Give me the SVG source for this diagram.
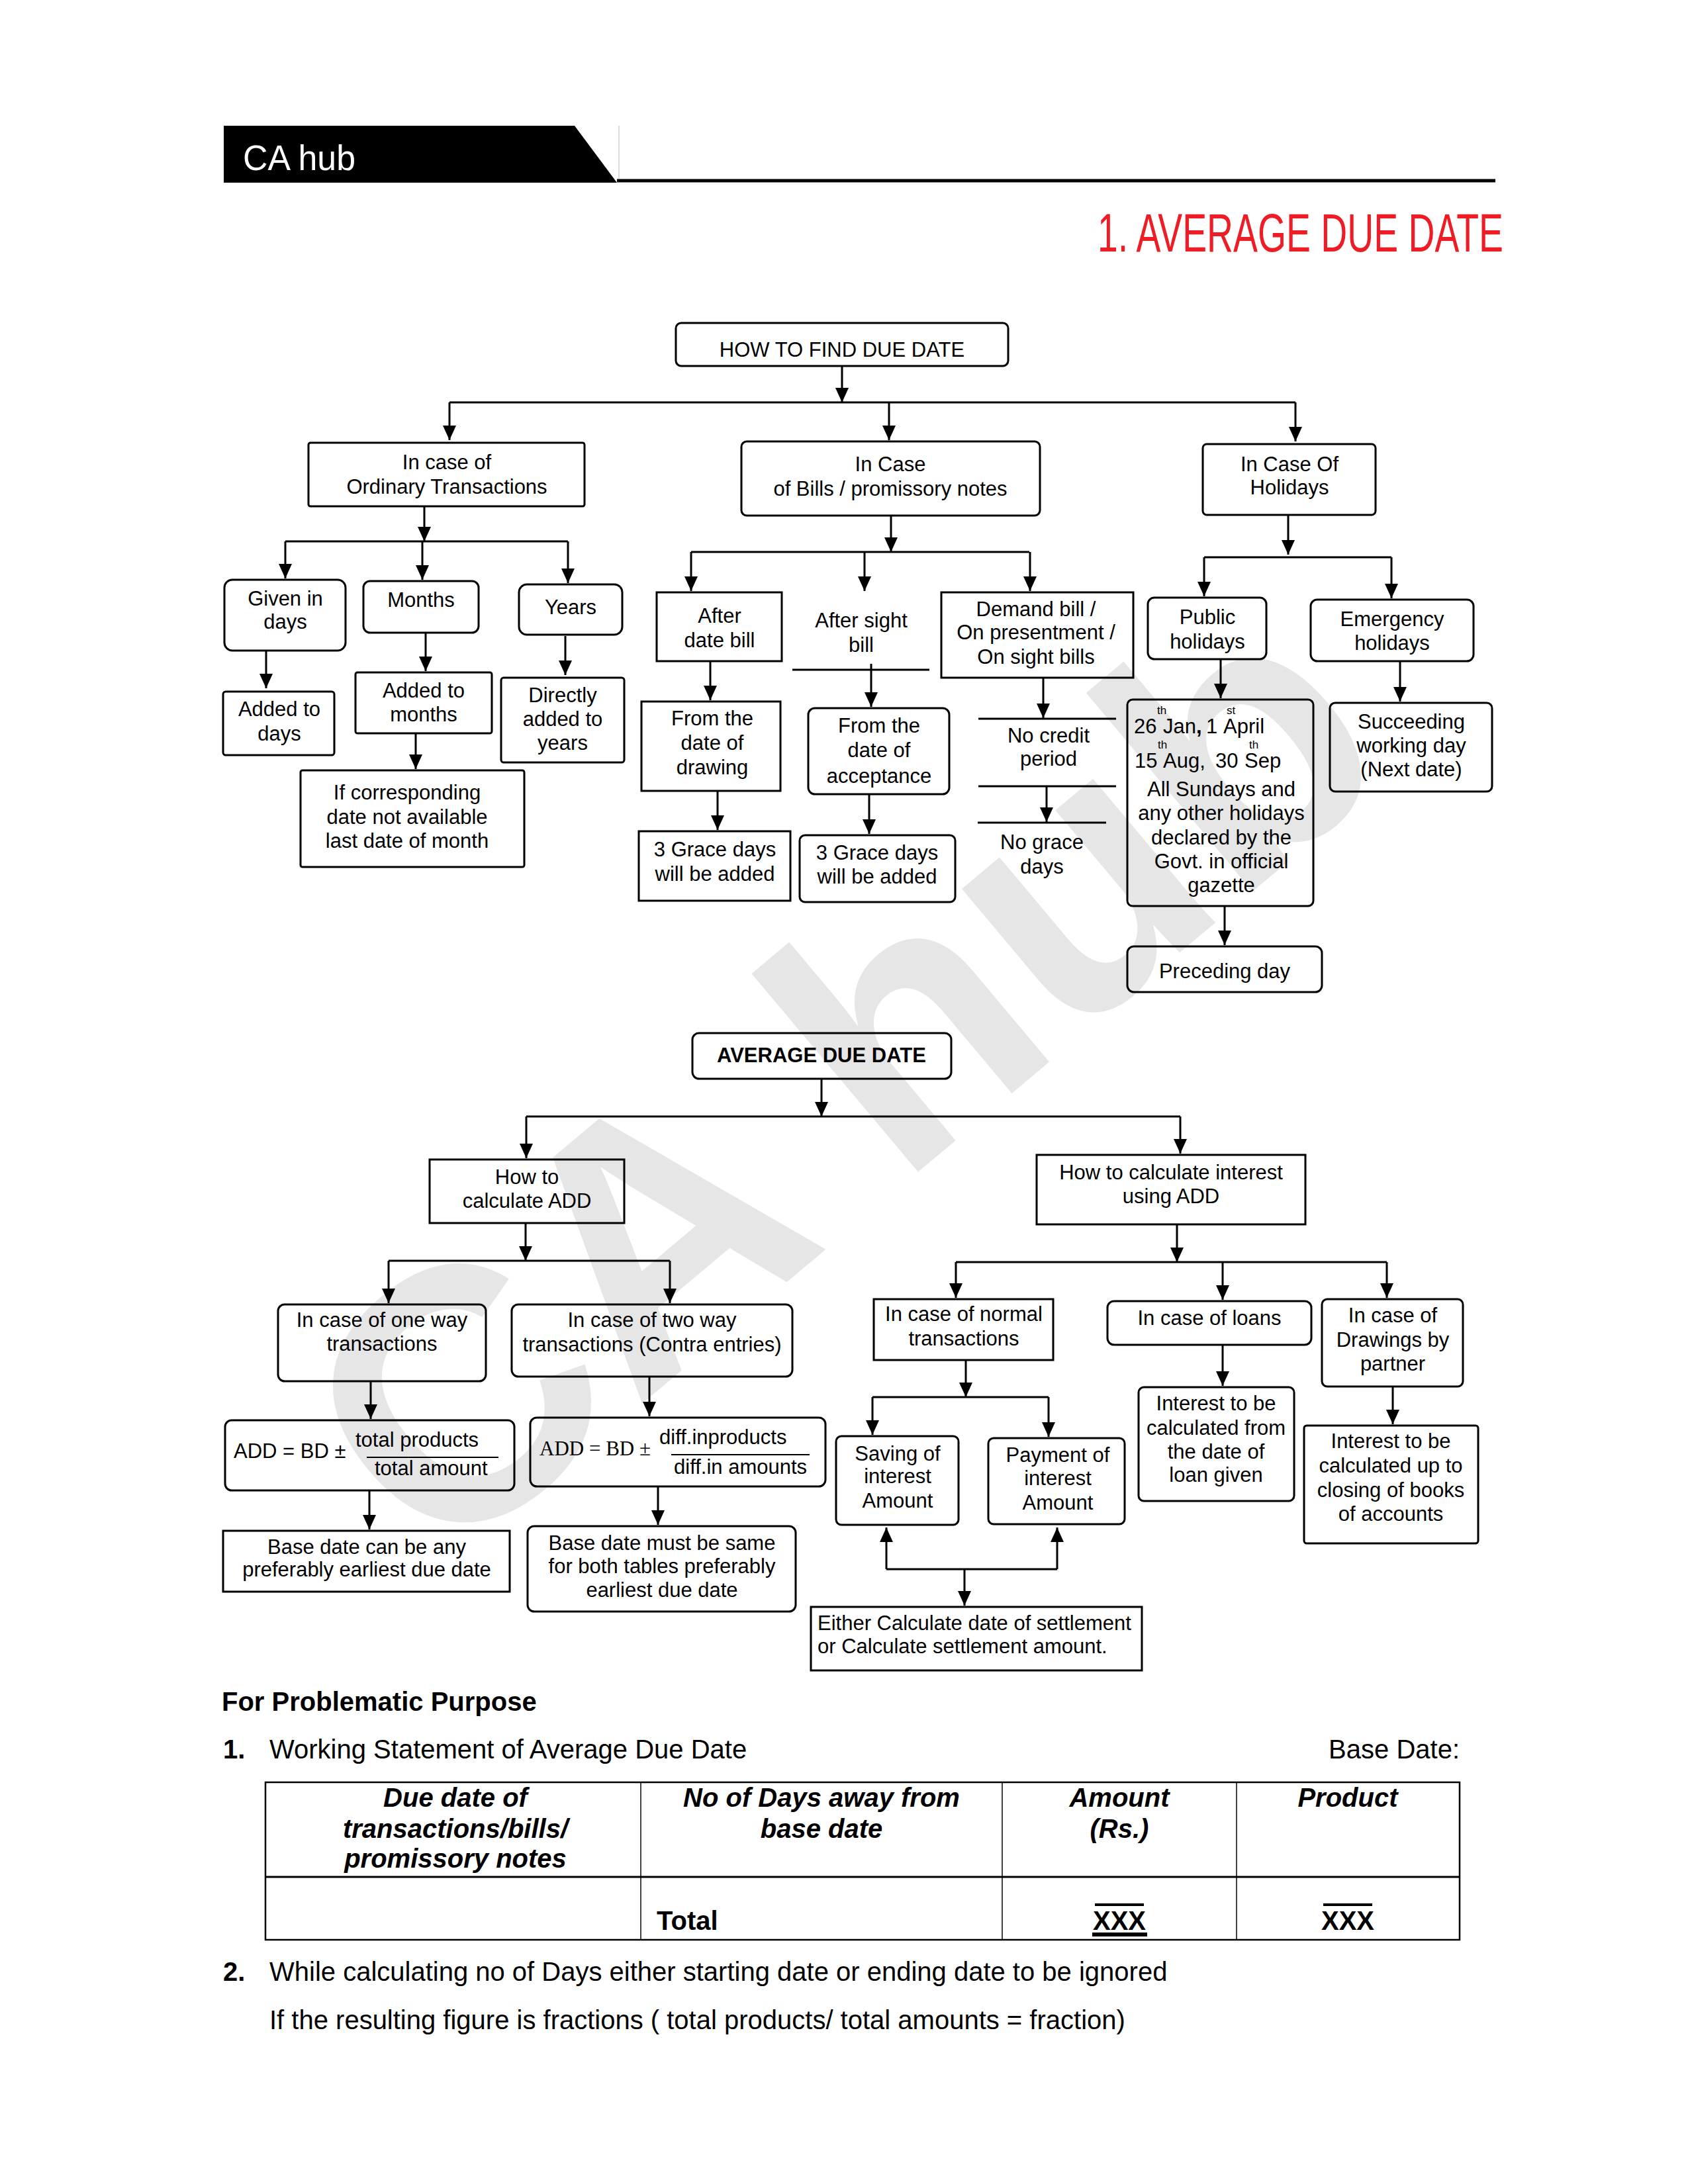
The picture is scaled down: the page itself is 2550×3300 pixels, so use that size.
<svg xmlns="http://www.w3.org/2000/svg" width="2550" height="3300" viewBox="0 0 2550 3300">
<defs>
<style>
.b{fill:none;stroke:#000;stroke-width:3}
.t{font-family:"Liberation Sans",Arial,Helvetica,sans-serif;font-size:31px;text-anchor:middle;fill:#000}
.l{font-family:"Liberation Sans",Arial,Helvetica,sans-serif;font-size:31px;fill:#000}
.sup{font-family:"Liberation Sans",Arial,Helvetica,sans-serif;font-size:17px;fill:#000}
.p{font-family:"Liberation Sans",Arial,Helvetica,sans-serif;font-size:40px;fill:#000}
.hd{font-family:"Liberation Sans",Arial,Helvetica,sans-serif;font-size:40px;font-weight:bold;font-style:italic;text-anchor:middle;fill:#000}
.c{stroke:#000;stroke-width:3;fill:none}
.a{marker-end:url(#ah)}
</style>
<marker id="ah" viewBox="0 0 22 20" refX="22" refY="10" markerWidth="22" markerHeight="20" markerUnits="userSpaceOnUse" orient="auto">
<path d="M0,0 L22,10 L0,20 z" fill="#000"/>
</marker>
</defs>
<rect width="2550" height="3300" fill="#fff"/>
<!-- watermark -->
<text x="661" y="2380" transform="rotate(-40 661 2380)" font-family="Liberation Sans, Arial, sans-serif" font-size="540" font-weight="bold" fill="#e6e6e6">CA hub</text>

<!-- header -->
<g id="header">
<polygon points="338,190 868,190 932,276 338,276" fill="#000"/>
<line x1="932" y1="273" x2="2259" y2="273" stroke="#000" stroke-width="5"/>
<line x1="935" y1="190" x2="935" y2="270" stroke="#d0d0d0" stroke-width="1.5"/>
<text x="367" y="257" font-family="Liberation Sans, Arial, sans-serif" font-size="54" fill="#fff" textLength="170" lengthAdjust="spacingAndGlyphs">CA hub</text>
<text transform="translate(1658,380) scale(0.675,1)" x="0" y="0" font-family="Liberation Sans, Arial, sans-serif" font-size="82" fill="#ee1c25">1. AVERAGE DUE DATE</text>
</g>

<!-- connectors -->
<g id="connectors">
<line class="c a" x1="1272" y1="553" x2="1272" y2="608"/>
<line class="c" x1="679" y1="608" x2="1957" y2="608" stroke-width="4"/>
<line class="c a" x1="679" y1="608" x2="679" y2="665"/>
<line class="c a" x1="1343" y1="608" x2="1343" y2="665"/>
<line class="c a" x1="1957" y1="608" x2="1957" y2="667"/>

<line class="c a" x1="641" y1="765" x2="641" y2="818"/>
<line class="c" x1="431" y1="818" x2="858" y2="818"/>
<line class="c a" x1="431" y1="818" x2="431" y2="874"/>
<line class="c a" x1="638" y1="818" x2="638" y2="876"/>
<line class="c a" x1="858" y1="818" x2="858" y2="881"/>
<line class="c a" x1="402" y1="983" x2="402" y2="1040"/>
<line class="c a" x1="643" y1="956" x2="643" y2="1014"/>
<line class="c a" x1="854" y1="961" x2="854" y2="1020"/>
<line class="c a" x1="628" y1="1108" x2="628" y2="1162"/>

<line class="c a" x1="1346" y1="779" x2="1346" y2="834"/>
<line class="c" x1="1044" y1="834" x2="1555" y2="834"/>
<line class="c a" x1="1044" y1="834" x2="1044" y2="893"/>
<line class="c a" x1="1306" y1="834" x2="1306" y2="893"/>
<line class="c a" x1="1556" y1="834" x2="1556" y2="893"/>
<line class="c a" x1="1073" y1="999" x2="1073" y2="1058"/>
<line class="c" x1="1197" y1="1012" x2="1404" y2="1012"/>
<line class="c a" x1="1316" y1="1003" x2="1316" y2="1068"/>
<line class="c a" x1="1576" y1="1024" x2="1576" y2="1085"/>
<line class="c" x1="1478" y1="1086" x2="1686" y2="1086"/>
<line class="c" x1="1478" y1="1188" x2="1686" y2="1188"/>
<line class="c a" x1="1581" y1="1188" x2="1581" y2="1242"/>
<line class="c" x1="1477" y1="1243" x2="1671" y2="1243"/>
<line class="c a" x1="1084" y1="1195" x2="1084" y2="1254"/>
<line class="c a" x1="1313" y1="1200" x2="1313" y2="1260"/>

<line class="c a" x1="1946" y1="778" x2="1946" y2="838"/>
<line class="c" x1="1819" y1="842" x2="2102" y2="842"/>
<line class="c a" x1="1819" y1="842" x2="1819" y2="901"/>
<line class="c a" x1="2102" y1="842" x2="2102" y2="904"/>
<line class="c a" x1="1844" y1="996" x2="1844" y2="1055"/>
<line class="c a" x1="2115" y1="999" x2="2115" y2="1060"/>
<line class="c a" x1="1850" y1="1369" x2="1850" y2="1428"/>

<line class="c a" x1="1241" y1="1630" x2="1241" y2="1687"/>
<line class="c" x1="795" y1="1687" x2="1783" y2="1687" stroke-width="4"/>
<line class="c a" x1="795" y1="1687" x2="795" y2="1750"/>
<line class="c a" x1="1783" y1="1687" x2="1783" y2="1743"/>

<line class="c a" x1="794" y1="1848" x2="794" y2="1905"/>
<line class="c" x1="587" y1="1905" x2="1012" y2="1905"/>
<line class="c a" x1="587" y1="1905" x2="587" y2="1969"/>
<line class="c a" x1="1012" y1="1905" x2="1012" y2="1969"/>
<line class="c a" x1="560" y1="2087" x2="560" y2="2144"/>
<line class="c a" x1="558" y1="2252" x2="558" y2="2311"/>
<line class="c a" x1="981" y1="2080" x2="981" y2="2140"/>
<line class="c a" x1="994" y1="2246" x2="994" y2="2304"/>

<line class="c a" x1="1778" y1="1850" x2="1778" y2="1907"/>
<line class="c" x1="1444" y1="1907" x2="2095" y2="1907"/>
<line class="c a" x1="1444" y1="1907" x2="1444" y2="1961"/>
<line class="c a" x1="1847" y1="1907" x2="1847" y2="1964"/>
<line class="c a" x1="2095" y1="1907" x2="2095" y2="1961"/>
<line class="c a" x1="1459" y1="2055" x2="1459" y2="2111"/>
<line class="c" x1="1318" y1="2111" x2="1584" y2="2111"/>
<line class="c a" x1="1318" y1="2111" x2="1318" y2="2168"/>
<line class="c a" x1="1584" y1="2111" x2="1584" y2="2171"/>
<line class="c" x1="1339" y1="2371" x2="1597" y2="2371"/>
<line class="c a" x1="1339" y1="2371" x2="1339" y2="2308"/>
<line class="c a" x1="1597" y1="2371" x2="1597" y2="2308"/>
<line class="c a" x1="1457" y1="2371" x2="1457" y2="2426"/>
<line class="c a" x1="1847" y1="2032" x2="1847" y2="2094"/>
<line class="c a" x1="2104" y1="2095" x2="2104" y2="2152"/>
</g>

<!-- top section nodes -->
<g id="how-to-find">
<rect class="b" x="1021" y="488" width="502" height="65" rx="8"/>
<text class="t" x="1272" y="539">HOW TO FIND DUE DATE</text>
</g>
<g id="ordinary">
<rect class="b" x="466" y="669" width="417" height="96" rx="3"/>
<text class="t" x="675" y="709">In case of</text>
<text class="t" x="675" y="746">Ordinary Transactions</text>
</g>
<g id="bills">
<rect class="b" x="1120" y="667" width="451" height="112" rx="8"/>
<text class="t" x="1345" y="712">In Case</text>
<text class="t" x="1345" y="749">of Bills / promissory notes</text>
</g>
<g id="holidays">
<rect class="b" x="1817" y="671" width="261" height="107" rx="6"/>
<text class="t" x="1948" y="712">In Case Of</text>
<text class="t" x="1948" y="747">Holidays</text>
</g>

<g id="given-days">
<rect class="b" x="339" y="876" width="183" height="107" rx="12"/>
<text class="t" x="431" y="915">Given in</text>
<text class="t" x="431" y="950">days</text>
</g>
<g id="months">
<rect class="b" x="549" y="878" width="174" height="78" rx="10"/>
<text class="t" x="636" y="917">Months</text>
</g>
<g id="years">
<rect class="b" x="784" y="883" width="156" height="76" rx="12"/>
<text class="t" x="862" y="928">Years</text>
</g>
<g id="added-days">
<rect class="b" x="337" y="1045" width="168" height="96" rx="4"/>
<text class="t" x="422" y="1082">Added to</text>
<text class="t" x="422" y="1119">days</text>
</g>
<g id="added-months">
<rect class="b" x="537" y="1016" width="206" height="92" rx="3"/>
<text class="t" x="640" y="1054">Added to</text>
<text class="t" x="640" y="1090">months</text>
</g>
<g id="directly">
<rect class="b" x="757" y="1024" width="186" height="128" rx="4"/>
<text class="t" x="850" y="1061">Directly</text>
<text class="t" x="850" y="1097">added to</text>
<text class="t" x="850" y="1133">years</text>
</g>
<g id="if-corresponding">
<rect class="b" x="454" y="1164" width="338" height="146" rx="3"/>
<text class="t" x="615" y="1208">If corresponding</text>
<text class="t" x="615" y="1245">date not available</text>
<text class="t" x="615" y="1281">last date of month</text>
</g>

<g id="after-date">
<rect class="b" x="992" y="895" width="189" height="104"/>
<text class="t" x="1087" y="941">After</text>
<text class="t" x="1087" y="978">date bill</text>
</g>
<g id="after-sight">
<text class="t" x="1301" y="948">After sight</text>
<text class="t" x="1301" y="985">bill</text>
</g>
<g id="demand">
<rect class="b" x="1422" y="895" width="290" height="129"/>
<text class="t" x="1565" y="931">Demand bill /</text>
<text class="t" x="1565" y="966">On presentment /</text>
<text class="t" x="1565" y="1003">On sight bills</text>
</g>
<g id="from-drawing">
<rect class="b" x="969" y="1060" width="210" height="135"/>
<text class="t" x="1076" y="1096">From the</text>
<text class="t" x="1076" y="1133">date of</text>
<text class="t" x="1076" y="1170">drawing</text>
</g>
<g id="from-acceptance">
<rect class="b" x="1221" y="1070" width="213" height="130" rx="10"/>
<text class="t" x="1328" y="1107">From the</text>
<text class="t" x="1328" y="1144">date of</text>
<text class="t" x="1328" y="1183">acceptance</text>
</g>
<g id="no-credit">
<text class="t" x="1584" y="1122">No credit</text>
<text class="t" x="1584" y="1157">period</text>
</g>
<g id="no-grace">
<text class="t" x="1574" y="1283">No grace</text>
<text class="t" x="1574" y="1320">days</text>
</g>
<g id="grace-1">
<rect class="b" x="965" y="1256" width="229" height="105"/>
<text class="t" x="1080" y="1294">3 Grace days</text>
<text class="t" x="1080" y="1331">will be added</text>
</g>
<g id="grace-2">
<rect class="b" x="1208" y="1262" width="235" height="101" rx="8"/>
<text class="t" x="1325" y="1299">3 Grace days</text>
<text class="t" x="1325" y="1335">will be added</text>
</g>

<g id="public">
<rect class="b" x="1734" y="903" width="179" height="93" rx="10"/>
<text class="t" x="1824" y="943">Public</text>
<text class="t" x="1824" y="980">holidays</text>
</g>
<g id="emergency">
<rect class="b" x="1980" y="906" width="246" height="93" rx="10"/>
<text class="t" x="2103" y="946">Emergency</text>
<text class="t" x="2103" y="982">holidays</text>
</g>
<g id="public-list">
<rect class="b" x="1703" y="1057" width="281" height="312" rx="8"/>
<text class="l" y="1108"><tspan x="1713">26</tspan><tspan x="1757">Jan</tspan><tspan x="1807" font-weight="bold">,</tspan><tspan x="1822">1</tspan><tspan x="1848">April</tspan></text>
<text class="sup" x="1748" y="1079">th</text>
<text class="sup" x="1853" y="1079">st</text>
<text class="l" y="1160"><tspan x="1714">15</tspan><tspan x="1757">Aug,</tspan><tspan x="1836">30</tspan><tspan x="1880">Sep</tspan></text>
<text class="sup" x="1749" y="1131">th</text>
<text class="sup" x="1887" y="1131">th</text>
<text class="t" x="1845" y="1203">All Sundays and</text>
<text class="t" x="1845" y="1239">any other holidays</text>
<text class="t" x="1845" y="1276">declared by the</text>
<text class="t" x="1845" y="1312">Govt. in official</text>
<text class="t" x="1845" y="1348">gazette</text>
</g>
<g id="preceding">
<rect class="b" x="1703" y="1430" width="294" height="69" rx="10"/>
<text class="t" x="1850" y="1478">Preceding day</text>
</g>
<g id="succeeding">
<rect class="b" x="2009" y="1062" width="245" height="134" rx="8"/>
<text class="t" x="2132" y="1101">Succeeding</text>
<text class="t" x="2132" y="1137">working day</text>
<text class="t" x="2132" y="1173">(Next date)</text>
</g>

<!-- ADD section -->
<g id="add-root">
<rect class="b" x="1046" y="1561" width="391" height="69" rx="10"/>
<text class="t" x="1241" y="1605" font-weight="bold">AVERAGE DUE DATE</text>
</g>
<g id="calc-add">
<rect class="b" x="649" y="1752" width="294" height="96"/>
<text class="t" x="796" y="1789">How to</text>
<text class="t" x="796" y="1825">calculate ADD</text>
</g>
<g id="calc-interest">
<rect class="b" x="1566" y="1745" width="406" height="105"/>
<text class="t" x="1769" y="1782">How to calculate interest</text>
<text class="t" x="1769" y="1818">using ADD</text>
</g>
<g id="one-way">
<rect class="b" x="420" y="1971" width="314" height="116" rx="10"/>
<text class="t" x="577" y="2005">In case of one way</text>
<text class="t" x="577" y="2041">transactions</text>
</g>
<g id="two-way">
<rect class="b" x="773" y="1971" width="424" height="109" rx="10"/>
<text class="t" x="985" y="2005">In case of two way</text>
<text class="t" x="985" y="2042">transactions (Contra entries)</text>
</g>
<g id="formula-1">
<rect class="b" x="340" y="2146" width="437" height="106" rx="10"/>
<text class="l" x="353" y="2203">ADD = BD ±</text>
<text class="l" x="537" y="2186">total products</text>
<line x1="554" y1="2202" x2="753" y2="2202" stroke="#000" stroke-width="2"/>
<text class="l" x="566" y="2229">total amount</text>
</g>
<g id="base-date-1">
<rect class="b" x="337" y="2313" width="433" height="92"/>
<text class="t" x="554" y="2348">Base date can be any</text>
<text class="t" x="554" y="2382">preferably earliest due date</text>
</g>
<g id="formula-2">
<rect class="b" x="801" y="2142" width="446" height="104" rx="10"/>
<text x="815" y="2199" font-family="Liberation Serif, Times New Roman, serif" font-size="31">ADD = BD ±</text>
<text class="l" x="996" y="2182">diff.inproducts</text>
<line x1="1014" y1="2198" x2="1223" y2="2198" stroke="#000" stroke-width="2"/>
<text class="l" x="1018" y="2227">diff.in amounts</text>
</g>
<g id="base-date-2">
<rect class="b" x="797" y="2306" width="405" height="129" rx="10"/>
<text class="t" x="1000" y="2342">Base date must be same</text>
<text class="t" x="1000" y="2377">for both tables preferably</text>
<text class="t" x="1000" y="2413">earliest due date</text>
</g>

<g id="normal">
<rect class="b" x="1320" y="1963" width="271" height="92"/>
<text class="t" x="1456" y="1996">In case of normal</text>
<text class="t" x="1456" y="2033">transactions</text>
</g>
<g id="loans">
<rect class="b" x="1673" y="1966" width="308" height="66" rx="10"/>
<text class="t" x="1827" y="2002">In case of loans</text>
</g>
<g id="drawings">
<rect class="b" x="1997" y="1963" width="213" height="132" rx="8"/>
<text class="t" x="2104" y="1998">In case of</text>
<text class="t" x="2104" y="2035">Drawings by</text>
<text class="t" x="2104" y="2071">partner</text>
</g>
<g id="saving">
<rect class="b" x="1263" y="2170" width="185" height="134" rx="8"/>
<text class="t" x="1356" y="2207">Saving of</text>
<text class="t" x="1356" y="2241">interest</text>
<text class="t" x="1356" y="2278">Amount</text>
</g>
<g id="payment">
<rect class="b" x="1493" y="2173" width="206" height="130" rx="8"/>
<text class="t" x="1598" y="2209">Payment of</text>
<text class="t" x="1598" y="2244">interest</text>
<text class="t" x="1598" y="2281">Amount</text>
</g>
<g id="either">
<rect class="b" x="1225" y="2428" width="500" height="96"/>
<text class="l" x="1235" y="2463">Either Calculate date of settlement</text>
<text class="l" x="1235" y="2498">or Calculate settlement amount.</text>
</g>
<g id="interest-from">
<rect class="b" x="1720" y="2096" width="235" height="172" rx="8"/>
<text class="t" x="1837" y="2131">Interest to be</text>
<text class="t" x="1837" y="2168">calculated from</text>
<text class="t" x="1837" y="2204">the date of</text>
<text class="t" x="1837" y="2239">loan given</text>
</g>
<g id="interest-upto">
<rect class="b" x="1970" y="2154" width="263" height="178" rx="4"/>
<text class="t" x="2101" y="2188">Interest to be</text>
<text class="t" x="2101" y="2225">calculated up to</text>
<text class="t" x="2101" y="2262">closing of books</text>
<text class="t" x="2101" y="2298">of accounts</text>
</g>

<!-- bottom text and table -->
<g id="problematic">
<text class="p" x="335" y="2585" font-weight="bold">For Problematic Purpose</text>
<text class="p" x="337" y="2657" font-weight="bold">1.</text>
<text class="p" x="407" y="2657">Working Statement of Average Due Date</text>
<text class="p" x="2205" y="2657" text-anchor="end">Base Date:</text>
</g>
<g id="table">
<rect x="401" y="2693" width="1804" height="238" fill="none" stroke="#000" stroke-width="2.5"/>
<line x1="401" y1="2836" x2="2205" y2="2836" stroke="#000" stroke-width="3"/>
<line x1="968" y1="2693" x2="968" y2="2931" stroke="#000" stroke-width="1.5"/>
<line x1="1514" y1="2693" x2="1514" y2="2931" stroke="#000" stroke-width="1.5"/>
<line x1="1868" y1="2693" x2="1868" y2="2931" stroke="#000" stroke-width="1.5"/>
<text class="hd" x="688" y="2730">Due date of</text>
<text class="hd" x="688" y="2777">transactions/bills/</text>
<text class="hd" x="688" y="2822">promissory notes</text>
<text class="hd" x="1241" y="2730">No of Days away from</text>
<text class="hd" x="1241" y="2777">base date</text>
<text class="hd" x="1691" y="2730">Amount</text>
<text class="hd" x="1691" y="2777">(Rs.)</text>
<text class="hd" x="2036" y="2730">Product</text>
<text class="p" x="992" y="2916" font-weight="bold">Total</text>
<text class="p" x="1691" y="2916" font-weight="bold" text-anchor="middle">XXX</text>
<line x1="1654" y1="2878" x2="1728" y2="2878" stroke="#000" stroke-width="4"/>
<line x1="1650" y1="2923" x2="1733" y2="2923" stroke="#000" stroke-width="6"/>
<text class="p" x="2036" y="2916" font-weight="bold" text-anchor="middle">XXX</text>
<line x1="1999" y1="2878" x2="2073" y2="2878" stroke="#000" stroke-width="4"/>
</g>
<g id="notes">
<text class="p" x="337" y="2993" font-weight="bold">2.</text>
<text class="p" x="407" y="2993">While calculating no of Days either starting date or ending date to be ignored</text>
<text class="p" x="407" y="3066">If the resulting figure is fractions ( total products/ total amounts = fraction)</text>
</g>
</svg>
